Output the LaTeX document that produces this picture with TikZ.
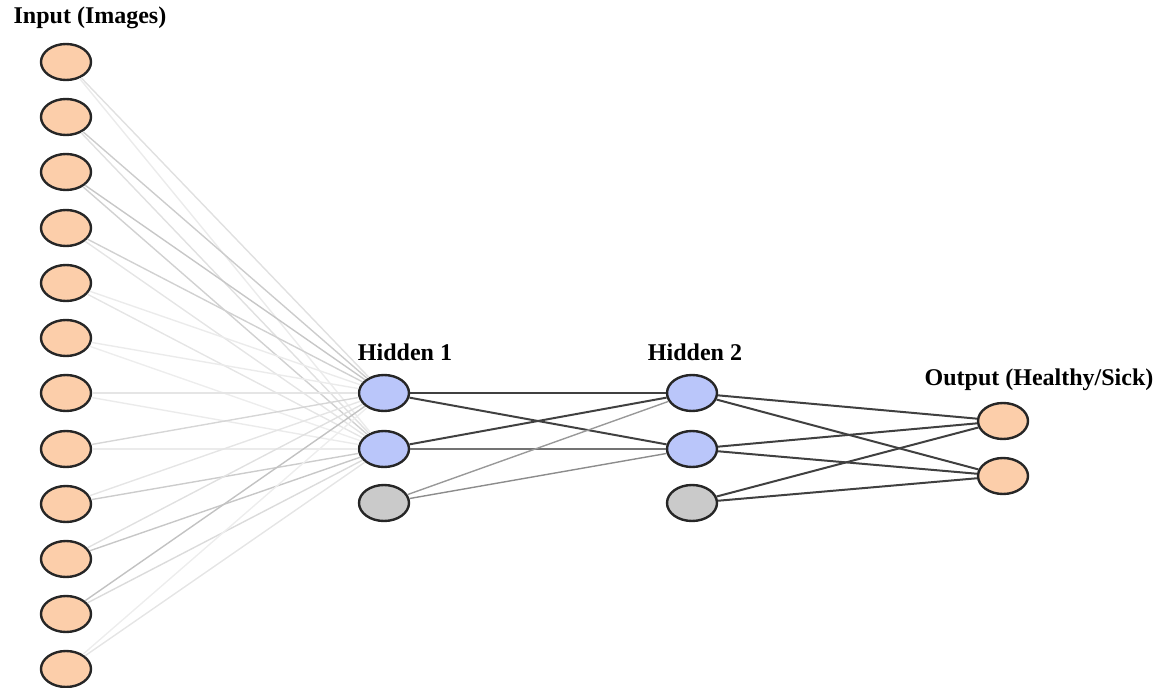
\documentclass[tikz,border=0pt]{standalone}
\usepackage{fontspec}
\setmainfont{Liberation Serif}
\usetikzlibrary{shapes.geometric}

\definecolor{peach}{RGB}{252,206,170}
\definecolor{lblue}{RGB}{186,198,250}
\definecolor{lgray}{RGB}{202,202,202}

\tikzset{
neuron/.style={ellipse,draw=black!85,line width=2.4pt,minimum width=50pt,minimum height=36pt,inner sep=0pt},
inp/.style={neuron,fill=peach},
hid/.style={neuron,fill=lblue},
bias/.style={neuron,fill=lgray},
faint/.style={draw=black!#1,line width=1.4pt},
strong/.style={draw=black!75,line width=2pt},
title/.style={font=\fontsize{24}{28}\selectfont\bfseries}
}

\begin{document}
\begin{tikzpicture}[x=1pt,y=-1pt]
\useasboundingbox (0,0) rectangle (1168,688);

% labels
\node[title] (tin) at (90,18) {Input (Images)};
\node[title] (th1) at (405,352) {Hidden 1};
\node[title] (th2) at (695,352) {Hidden 2};
\node[title] (tout) at (1039,380) {Output (Healthy/Sick)};

% input layer
\node[inp] (i1) at (66,62) {};
\node[inp] (i2) at (66,117) {};
\node[inp] (i3) at (66,172) {};
\node[inp] (i4) at (66,228) {};
\node[inp] (i5) at (66,283) {};
\node[inp] (i6) at (66,338) {};
\node[inp] (i7) at (66,393) {};
\node[inp] (i8) at (66,449) {};
\node[inp] (i9) at (66,504) {};
\node[inp] (i10) at (66,559) {};
\node[inp] (i11) at (66,614) {};
\node[inp] (i12) at (66,669) {};

% hidden layers
\node[hid] (h1a) at (384,393) {};
\node[hid] (h1b) at (384,449) {};
\node[bias] (h1c) at (384,503) {};
\node[hid] (h2a) at (692,393) {};
\node[hid] (h2b) at (692,449) {};
\node[bias] (h2c) at (692,503) {};

% output layer
\node[inp] (o1) at (1003,421) {};
\node[inp] (o2) at (1003,476) {};

% input -> hidden 1
\draw[faint=12] (i1) -- (h1a);
\draw[faint=8] (i1) -- (h1b);
\draw[faint=20] (i2) -- (h1a);
\draw[faint=12] (i2) -- (h1b);
\draw[faint=22] (i3) -- (h1a);
\draw[faint=18] (i3) -- (h1b);
\draw[faint=18] (i4) -- (h1a);
\draw[faint=10] (i4) -- (h1b);
\draw[faint=8] (i5) -- (h1a);
\draw[faint=10] (i5) -- (h1b);
\draw[faint=8] (i6) -- (h1a);
\draw[faint=7] (i6) -- (h1b);
\draw[faint=10] (i7) -- (h1a);
\draw[faint=8] (i7) -- (h1b);
\draw[faint=16] (i8) -- (h1a);
\draw[faint=8] (i8) -- (h1b);
\draw[faint=10] (i9) -- (h1a);
\draw[faint=20] (i9) -- (h1b);
\draw[faint=12] (i10) -- (h1a);
\draw[faint=22] (i10) -- (h1b);
\draw[faint=24] (i11) -- (h1a);
\draw[faint=14] (i11) -- (h1b);
\draw[faint=7] (i12) -- (h1a);
\draw[faint=10] (i12) -- (h1b);

% hidden 1 -> hidden 2
\draw[strong] (h1a) -- (h2a);
\draw[strong] (h1a) -- (h2b);
\draw[strong] (h1b) -- (h2a);
\draw[strong,draw=black!55] (h1b) -- (h2b);
\draw[faint=40] (h1c) -- (h2a);
\draw[faint=45] (h1c) -- (h2b);

% hidden 2 -> output
\draw[strong] (h2a) -- (o1);
\draw[strong] (h2a) -- (o2);
\draw[strong] (h2b) -- (o1);
\draw[strong] (h2b) -- (o2);
\draw[strong] (h2c) -- (o1);
\draw[strong] (h2c) -- (o2);
\end{tikzpicture}
\end{document}
